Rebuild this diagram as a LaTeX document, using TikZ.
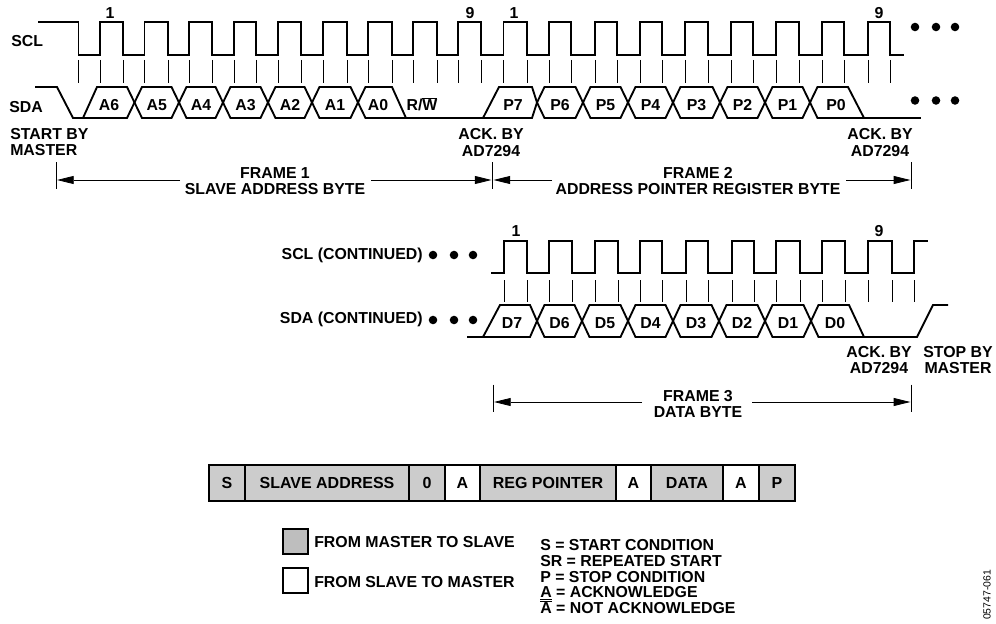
\documentclass[tikz,border=0pt]{standalone}
\usepackage{xcolor}
\usepackage{fontspec}
\setmainfont{Liberation Sans}
\usetikzlibrary{arrows.meta, positioning}
\definecolor{cellgray}{HTML}{CCCCCC}
\definecolor{keygray}{HTML}{BEBEBE}

\begin{document}
\begin{tikzpicture}[
  x=0.75pt, y=-0.75pt,
  label/.style={inner sep=0pt, font=\fontsize{11.9}{12}\selectfont\bfseries, text height=8.5pt, text depth=0pt, align=center},
  tag/.style={label, anchor=west},
  sigline/.style={line width=1.4pt, line join=miter},
  tickline/.style={line width=0.6pt},
  dimarrow/.style={-{Triangle[length=12.5pt, width=6pt]}, line width=0.6pt},
  dotmark/.style={circle, fill=black, inner sep=0pt, minimum size=6.4pt},
  cell/.style={rectangle, draw, line width=1.3pt, fill=cellgray, inner sep=0pt, outer sep=0pt, minimum height=27pt, font=\fontsize{12}{12}\selectfont\bfseries},
  ackcell/.style={cell, fill=white},
  keybox/.style={rectangle, draw, line width=1.2pt, inner sep=0pt, minimum size=18.75pt}
]
  \useasboundingbox (0,0) rectangle (996,624);

  % frame 1 and frame 2 clock
  \draw[sigline] (38,22) -- (78.5,22) -- (78.5,55)
    \foreach \r/\f in {100/123,144.5/168,189/212,234/256,278/301,323/347,368/392,413/437,458/481,503.5/527,549/571,595/617,640/662,685/708,731/753,776/799,822/844,868/890}
    { -- (\r,55) -- (\r,22) -- (\f,22) -- (\f,55)} -- (904,55);
  \foreach \x in {78.5,100,123,144.5,168,189,212,234,256,278,301,323,347,368,392,413,437,458,481,503.5,527,549,571,595,617,640,662,685,708,731,753,776,799,822,844,868,890}
    \draw[tickline] (\x,60) -- (\x,83);

  % frame 1 and frame 2 data
  \draw[sigline] (35,87) -- (57,87) -- (73,118) -- (83,118) -- (97,87) -- (127,87) -- (134.5,102.5) -- (127,118) -- (83,118);
  \foreach \a/\b/\t in {134.5/179/A5,179/223/A4,223/268/A3,268/312/A2,312/358/A1,537/583/P6,583/628/P5,628/673/P4,673/720/P3,720/765/P2,765/810/P1}
  {
    \draw[sigline] (\a,102.5) -- (\a+7.5,87) -- (\b-7.5,87) -- (\b,102.5) -- (\b-7.5,118) -- (\a+7.5,118) -- cycle;
    \node[label] (bit\t) at ({(\a+\b)/2},105) {\t};
  }
  \draw[sigline] (358,102.5) -- (365.5,87) -- (392,87) -- (406,118) -- (365.5,118) -- cycle;
  \draw[sigline] (406,118) -- (483,118) -- (499,87) -- (532,87) -- (537,102.5) -- (532,118) -- (483,118);
  \draw[sigline] (810,102.5) -- (817.5,87) -- (848,87) -- (864,118) -- (817.5,118) -- cycle;
  \draw[sigline] (864,118) -- (921,118);
  \node[label] (bitA6) at (109,105) {A6};
  \node[label] (bitA0) at (378,105) {A0};
  \node[label] (bitRW) at (422,105) {R/$\overline{\mbox{W}}$};
  \node[label] (bitP7) at (513,105) {P7};
  \node[label] (bitP0) at (836,105) {P0};

  \node[label] (countA) at (110,13) {1};
  \node[label] (countB) at (470,13) {9};
  \node[label] (countC) at (514,13) {1};
  \node[label] (countD) at (879,13) {9};
  \node[tag] (scl) at (11,41) {SCL};
  \node[tag] (sda) at (9,107) {SDA};
  \node[tag] (startA) at (10,134) {START BY};
  \node[tag] (startB) at (10,150) {MASTER};
  \node[label] (ackA) at (491,134) {ACK. BY};
  \node[label] (ackB) at (491,151) {AD7294};
  \node[label] (ackC) at (880,134) {ACK. BY};
  \node[label] (ackD) at (880,151) {AD7294};
  \foreach \x/\n in {915/a,936/b,955/c}
  {
    \node[dotmark] (clk\n) at (\x,27) {};
    \node[dotmark] (dat\n) at (\x,100.5) {};
  }

  % frame limits
  \coordinate (limA) at (56,180);
  \coordinate (limB) at (492.5,180);
  \coordinate (limC) at (911,180);
  \coordinate (limD) at (493,402);
  \coordinate (limE) at (911,402);
  \foreach \c in {limA,limB,limC,limD,limE}
    \draw[tickline] (\c) ++(0,-17.5) -- ++(0,27);
  \node[label] (frameA) at (275,173) {FRAME 1};
  \node[label] (byteA) at (275,189) {SLAVE ADDRESS BYTE};
  \node[label] (frameB) at (698,173) {FRAME 2};
  \node[label] (byteB) at (698,189) {ADDRESS POINTER REGISTER BYTE};
  \node[label] (frameC) at (698,396) {FRAME 3};
  \node[label] (byteC) at (698,412) {DATA BYTE};
  \coordinate (runA) at (180,180);
  \coordinate (runB) at (371,180);
  \coordinate (runC) at (552,180);
  \coordinate (runD) at (846,180);
  \coordinate (runE) at (642,402);
  \coordinate (runF) at (752,402);
  \draw[dimarrow] (runA) -- ([xshift=0.8pt]limA);
  \draw[dimarrow] (runB) -- ([xshift=-0.8pt]limB);
  \draw[dimarrow] (runC) -- ([xshift=0.8pt]limB);
  \draw[dimarrow] (runD) -- ([xshift=-0.5pt]limC);
  \draw[dimarrow] (runE) -- ([xshift=0.8pt]limD);
  \draw[dimarrow] (runF) -- ([xshift=-0.5pt]limE);

  % frame 3 clock
  \draw[sigline] (491,273) -- (504,273) -- (504,241)
    \foreach \f/\r in {527/549,572/595,618/640,662/686,708/732,754/776,800/822,845/868,892/914}
    { -- (\f,241) -- (\f,273) -- (\r,273) -- (\r,241)} -- (928,241);
  \foreach \x in {504,527,549,572,595,618,640,662,686,708,732,754,776,800,822,845,868,892,914}
    \draw[tickline] (\x,280) -- (\x,302);

  % frame 3 data
  \draw[sigline] (467,337) -- (483,337) -- (500,305) -- (530,305) -- (537,321) -- (530,337) -- (483,337);
  \foreach \a/\b/\t in {537/582/D6,582/628/D5,628/673/D4,673/719/D3,719/765/D2,765/811/D1}
  {
    \draw[sigline] (\a,321) -- (\a+7.5,305) -- (\b-7.5,305) -- (\b,321) -- (\b-7.5,337) -- (\a+7.5,337) -- cycle;
    \node[label] (bit\t) at ({(\a+\b)/2},323) {\t};
  }
  \draw[sigline] (811,321) -- (818.5,305) -- (849,305) -- (864,337) -- (818.5,337) -- cycle;
  \draw[sigline] (864,337) -- (917,337) -- (933,305) -- (948,305);
  \node[label] (bitD7) at (512,323) {D7};
  \node[label] (bitD0) at (835,323) {D0};

  \node[label] (countE) at (516,231) {1};
  \node[label] (countF) at (879,231) {9};
  \node[label, anchor=east] (sclmore) at (423,254) {SCL (CONTINUED)};
  \node[label, anchor=east] (sdamore) at (423,318) {SDA (CONTINUED)};
  \foreach \x/\n in {433/a,454/b,473/c}
  {
    \node[dotmark] (sclmore\n) at (\x,255) {};
    \node[dotmark] (sdamore\n) at (\x,320) {};
  }
  \node[label] (ackE) at (879,352) {ACK. BY};
  \node[label] (ackF) at (879,368) {AD7294};
  \node[label] (stopA) at (958,352) {STOP BY};
  \node[label] (stopB) at (958,368) {MASTER};

  % message format
  \node[cell, minimum width=27pt, anchor=west] (msgS) at (209,483) {S};
  \node[cell, minimum width=123pt, right=0pt of msgS] (msgAddr) {SLAVE ADDRESS};
  \node[cell, minimum width=27pt, right=0pt of msgAddr] (msgZero) {0};
  \node[ackcell, minimum width=26.25pt, right=0pt of msgZero] (msgAckA) {A};
  \node[cell, minimum width=102pt, right=0pt of msgAckA] (msgReg) {REG POINTER};
  \node[ackcell, minimum width=26.25pt, right=0pt of msgReg] (msgAckB) {A};
  \node[cell, minimum width=54pt, right=0pt of msgAckB] (msgData) {DATA};
  \node[ackcell, minimum width=27pt, right=0pt of msgData] (msgAckC) {A};
  \node[cell, minimum width=27pt, right=0pt of msgAckC] (msgP) {P};

  % key
  \node[keybox, fill=keygray] (keyMaster) at (295.5,541.5) {};
  \node[keybox] (keySlave) at (295.5,580.5) {};
  \node[tag] (keyMasterText) at (314,542) {FROM MASTER TO SLAVE};
  \node[tag] (keySlaveText) at (314,582) {FROM SLAVE TO MASTER};
  \node[tag] (noteA) at (540,545) {S = START CONDITION};
  \node[tag] (noteB) at (540,561) {SR = REPEATED START};
  \node[tag] (noteC) at (540,576.5) {P = STOP CONDITION};
  \node[tag] (noteD) at (540,592) {\underline{A} = ACKNOWLEDGE};
  \node[tag] (noteE) at (540,608) {$\overline{\mbox{A}}$ = NOT ACKNOWLEDGE};
  \node[rotate=90, inner sep=0pt, font=\fontsize{7.8}{8}\selectfont] (figno) at (987,595) {05747-061};
\end{tikzpicture}
\end{document}
